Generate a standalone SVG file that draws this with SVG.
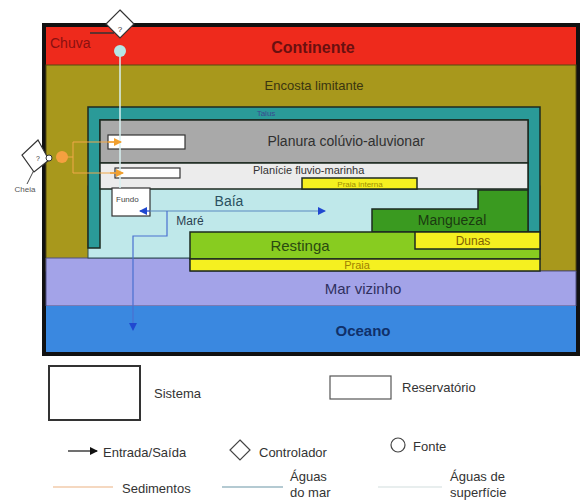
<svg xmlns="http://www.w3.org/2000/svg" width="580" height="502" viewBox="0 0 580 502">
<style>
text{font-family:"Liberation Sans",Arial,sans-serif}
.edge{stroke:#1c2a20;stroke-width:1.5}
.leg{font-size:13px;fill:#333}
</style>
<defs>
<marker id="ab" markerWidth="8" markerHeight="8" refX="7" refY="4" orient="auto" markerUnits="userSpaceOnUse"><path d="M0,0 L8,4 L0,8 Z" fill="#2048d0"/></marker>
<marker id="ao" markerWidth="8" markerHeight="8" refX="7" refY="4" orient="auto" markerUnits="userSpaceOnUse"><path d="M0,0 L8,4 L0,8 Z" fill="#f0a030"/></marker>
<marker id="ak" markerWidth="8" markerHeight="8" refX="7" refY="4" orient="auto" markerUnits="userSpaceOnUse"><path d="M0,0 L8,4 L0,8 Z" fill="#111"/></marker>
</defs>
<rect width="580" height="502" fill="#fff"/>

<g id="sistema">
<rect x="44" y="25" width="534" height="329" fill="#fff" stroke="#111" stroke-width="4"/>
</g>
<g id="continente">
<rect x="46" y="27" width="530" height="38" fill="#ee2a1c"/>
<text x="313" y="53" font-size="16" font-weight="bold" fill="#6a1010" text-anchor="middle">Continente</text>
<text x="50" y="48" font-size="14" fill="#8a1010">Chuva</text>
</g>
<g id="encosta">
<rect x="46" y="65" width="530" height="206" fill="#a8981c" stroke="#554a10" stroke-width="1"/>
<text x="314" y="90" font-size="13" fill="#3a3510" text-anchor="middle">Encosta limitante</text>
</g>
<g id="mar-vizinho">
<path d="M46,258 H190 V271 H576 V306 H46 Z" fill="#a3a3e8" stroke="#505080" stroke-width="1"/>
<text x="363" y="294" font-size="15" fill="#303060" text-anchor="middle">Mar vizinho</text>
</g>
<g id="oceano">
<rect x="46" y="306" width="530" height="46" fill="#3a88e0"/>
<text x="363" y="336" font-size="15" font-weight="bold" fill="#10306a" text-anchor="middle">Oceano</text>
</g>
<g id="baia">
<rect x="88" y="186" width="452" height="72" fill="#bfe8ea" stroke="#2a4a50" stroke-width="1"/>
<text x="229" y="206" font-size="14" fill="#2a5060" text-anchor="middle">Baía</text>
<text x="190" y="225" font-size="12" fill="#2a4050" text-anchor="middle">Maré</text>
</g>
<g id="talus">
<path d="M88,248 V107 H540 V232 H528 V120 H100 V248 Z" fill="#2a9a98" class="edge"/>
<text x="266" y="116" font-size="8" fill="#3a4a90" text-anchor="middle">Talus</text>
</g>
<g id="planura">
<rect x="100" y="120" width="428" height="43" fill="#a9a9a9" class="edge"/>
<text x="346" y="146" font-size="14" fill="#303030" text-anchor="middle">Planura colúvio-aluvionar</text>
<rect x="108" y="135" width="77" height="14" fill="#fff" stroke="#333" stroke-width="1.2"/>
</g>
<g id="planicie">
<rect x="100" y="163" width="428" height="26" fill="#ececec" class="edge"/>
<text x="253" y="174" font-size="11" fill="#333">Planície fluvio-marinha</text>
<rect x="115" y="168" width="65" height="10" fill="#fff" stroke="#333" stroke-width="1.2"/>
</g>
<g id="praia-interna">
<rect x="302" y="178" width="115" height="11" fill="#f5f020" class="edge" stroke-width="1.2"/>
<text x="360" y="187" font-size="8" fill="#a09000" text-anchor="middle">Praia interna</text>
</g>
<g id="fundo">
<rect x="112" y="188" width="38" height="28" fill="#fff" stroke="#333" stroke-width="1.2"/>
<text x="116" y="202" font-size="8" fill="#444">Fundo</text>
</g>
<g id="manguezal">
<path d="M478,190 H528 V232 H372 V209 H478 Z" fill="#3a9a20" class="edge"/>
<text x="452" y="225" font-size="14" fill="#1a3a10" text-anchor="middle">Manguezal</text>
</g>
<g id="restinga">
<rect x="190" y="232" width="350" height="27" fill="#88cc20" class="edge"/>
<text x="300" y="251" font-size="15" fill="#2a4a10" text-anchor="middle">Restinga</text>
</g>
<g id="dunas">
<rect x="415" y="232" width="125" height="17" fill="#f5f020" class="edge"/>
<text x="473" y="245" font-size="12" fill="#806000" text-anchor="middle">Dunas</text>
</g>
<g id="praia">
<rect x="190" y="259" width="350" height="12" fill="#f5f020" class="edge"/>
<text x="357" y="269" font-size="11" fill="#a08000" text-anchor="middle">Praia</text>
</g>

<g id="connectors" fill="none">
<line x1="120" y1="56" x2="120" y2="188" stroke="#d8f2f2" stroke-width="1.5"/>
<path d="M67,157 H73 M73,142 V173 M73,142 H120 M73,173 H122" stroke="#f0a848" stroke-width="1"/>
<path d="M108,142 H121" stroke="#f0a030" stroke-width="1.5" marker-end="url(#ao)"/>
<path d="M110,173 H123" stroke="#f0a030" stroke-width="1.5" marker-end="url(#ao)"/>
<path d="M150,211 H325" stroke="#5a88c0" stroke-width="1.2" marker-end="url(#ab)"/>
<path d="M150,211 H140" stroke="#2048d0" stroke-width="1.2" marker-end="url(#ab)"/>
<path d="M167,211 V236 H133 V330" stroke="#4a70d0" stroke-width="1.2" marker-end="url(#ab)"/>
<line x1="90" y1="33" x2="114" y2="33" stroke="#333" stroke-width="1.5"/>
<line x1="34" y1="170" x2="27" y2="184" stroke="#444" stroke-width="1"/>
</g>

<g id="controlador-chuva">
<path d="M120,10 L134,24 L120,38 L106,24 Z" fill="#fff" stroke="#333" stroke-width="1.2"/>
<text x="120" y="32" font-size="8" fill="#333" text-anchor="middle">?</text>
</g>
<g id="fonte-chuva">
<circle cx="120" cy="51" r="6" fill="#b6e6e6"/>
</g>
<g id="controlador-cheia">
<path d="M38,140 L49,160 L34,172 L22,155 Z" fill="#fff" stroke="#333" stroke-width="1.2"/>
<text x="38" y="161" font-size="7" fill="#333" text-anchor="middle">?</text>
<circle cx="49" cy="158" r="3" fill="#fff" stroke="#333" stroke-width="1"/>
<text x="25" y="192" font-size="8" fill="#555" text-anchor="middle">Cheia</text>
</g>
<g id="fonte-cheia">
<circle cx="62" cy="157" r="6" fill="#f5a040"/>
</g>

<g id="legenda">
<rect x="49" y="366" width="91" height="54" fill="#fff" stroke="#333" stroke-width="2"/>
<text x="154" y="398" class="leg">Sistema</text>
<rect x="330" y="376" width="61" height="23" fill="#fff" stroke="#555" stroke-width="1.2"/>
<text x="402" y="392" class="leg">Reservatório</text>
<line x1="68" y1="451" x2="97" y2="451" stroke="#111" stroke-width="1.2" marker-end="url(#ak)"/>
<text x="103" y="457" class="leg">Entrada/Saída</text>
<path d="M240,440 L250,450 L240,460 L230,450 Z" fill="#fff" stroke="#444" stroke-width="1.2"/>
<text x="259" y="457" class="leg">Controlador</text>
<circle cx="398" cy="445" r="7" fill="#fff" stroke="#444" stroke-width="1.2"/>
<text x="413" y="451" class="leg">Fonte</text>
<line x1="53" y1="487" x2="113" y2="487" stroke="#f5d8c0" stroke-width="2"/>
<text x="122" y="493" class="leg">Sedimentos</text>
<line x1="222" y1="487" x2="283" y2="487" stroke="#b4cad2" stroke-width="2"/>
<text x="290" y="481" class="leg">Águas</text>
<text x="290" y="497" class="leg">do mar</text>
<line x1="378" y1="487" x2="442" y2="487" stroke="#e8eeee" stroke-width="2"/>
<text x="450" y="481" class="leg">Águas de</text>
<text x="450" y="497" class="leg">superfície</text>
</g>
</svg>
